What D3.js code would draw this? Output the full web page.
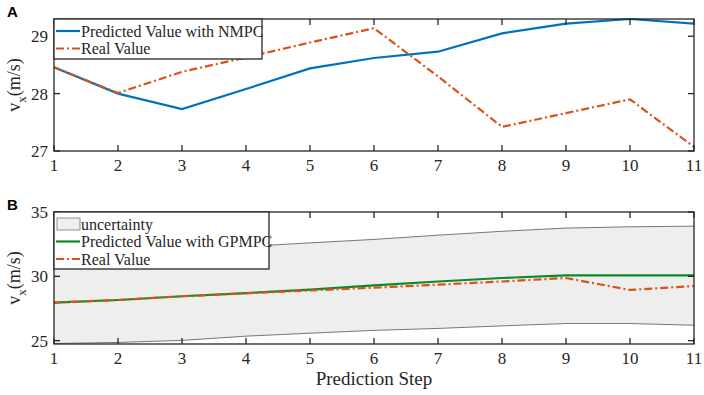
<!DOCTYPE html>
<html>
<head>
<meta charset="utf-8">
<script src="https://cdn.jsdelivr.net/npm/d3@7"></script>
<style>
  body { margin: 0; background: #fff; }
  svg { display: block; }
  text { font-family: "Liberation Serif", "Times New Roman", serif; fill: #262626; }
</style>
</head>
<body>
<svg id="drawing_region"></svg>
<script>
const steps = [1, 2, 3, 4, 5, 6, 7, 8, 9, 10, 11];

// panel A
const nmpcPred = [28.46, 28.0, 27.73, 28.08, 28.44, 28.62, 28.73, 29.05, 29.22, 29.30, 29.22];
const nmpcReal = [28.46, 28.01, 28.38, 28.63, 28.89, 29.14, 28.30, 27.42, 27.66, 27.90, 27.07];
const ticksA = [27, 28, 29];

// panel B
const gpPred = [27.96, 28.16, 28.45, 28.70, 28.97, 29.30, 29.60, 29.87, 30.08, 30.08, 30.08];
const gpReal = [27.96, 28.16, 28.45, 28.68, 28.90, 29.12, 29.35, 29.60, 29.87, 28.94, 29.25];
const bandUpper = [31.9, 32.0, 32.15, 32.32, 32.6, 32.87, 33.2, 33.5, 33.75, 33.85, 33.9];
const bandLower = [24.78, 24.86, 25.02, 25.35, 25.58, 25.8, 25.95, 26.15, 26.33, 26.33, 26.2];
const ticksB = [25, 30, 35];

const W = 704, H = 395;
const svg = d3.select('#drawing_region').attr('width', W).attr('height', H);

const left = 54, right = 694;
const x = d3.scaleLinear().domain([1, 11]).range([left, right]);

const BLUE = '#0072BD', RED = '#D95319', GREEN = '#0a8a2a';

function drawAxes(g, y, top, bottom, yticks) {
    g.append('rect')
        .attr('x', left).attr('y', top)
        .attr('width', right - left).attr('height', bottom - top)
        .attr('fill', 'none').attr('stroke', '#262626').attr('stroke-width', 1.3);

    const tl = 6;
    steps.forEach(s => {
        g.append('line').attr('x1', x(s)).attr('x2', x(s)).attr('y1', bottom).attr('y2', bottom - tl)
            .attr('stroke', '#262626').attr('stroke-width', 1.3);
        g.append('line').attr('x1', x(s)).attr('x2', x(s)).attr('y1', top).attr('y2', top + tl)
            .attr('stroke', '#262626').attr('stroke-width', 1.3);
        g.append('text').attr('x', x(s)).attr('y', bottom + 20)
            .attr('text-anchor', 'middle').style('font-size', '17px').text(s);
    });
    yticks.forEach(t => {
        g.append('line').attr('x1', left).attr('x2', left + tl).attr('y1', y(t)).attr('y2', y(t))
            .attr('stroke', '#262626').attr('stroke-width', 1.3);
        g.append('line').attr('x1', right).attr('x2', right - tl).attr('y1', y(t)).attr('y2', y(t))
            .attr('stroke', '#262626').attr('stroke-width', 1.3);
        g.append('text').attr('x', left - 6).attr('y', y(t)).attr('dy', '0.35em')
            .attr('text-anchor', 'end').style('font-size', '17px').text(t);
    });
}

function yLabel(cy) {
    const t = svg.append('text')
        .attr('transform', `translate(20, ${cy}) rotate(-90)`)
        .attr('text-anchor', 'middle').style('font-size', '18px');
    t.append('tspan').text('v');
    t.append('tspan').attr('dy', 6).style('font-size', '13px').text('x');
    t.append('tspan').attr('dy', -6).text('(m/s)');
}

function legend(g, x0, y0, w, h, items) {
    g.append('rect').attr('x', x0).attr('y', y0).attr('width', w).attr('height', h)
        .attr('fill', '#fff').attr('stroke', '#262626').attr('stroke-width', 1.3);
    items.forEach((it, i) => {
        const cy = y0 + 12 + i * 17.5;
        if (it.patch) {
            g.append('rect').attr('x', x0 + 3).attr('y', cy - 6).attr('width', 23).attr('height', 12)
                .attr('fill', '#eeeeee').attr('stroke', '#777').attr('stroke-width', 0.8);
        } else {
            g.append('line').attr('x1', x0 + 2).attr('x2', x0 + 26).attr('y1', cy).attr('y2', cy)
                .attr('stroke', it.color).attr('stroke-width', 2.2)
                .attr('stroke-dasharray', it.dash || null);
        }
        g.append('text').attr('x', x0 + 27).attr('y', cy).attr('dy', '0.35em')
            .style('font-size', '16px').text(it.label);
    });
}

// ---------- panel A ----------
const topA = 19, botA = 151;
const yA = d3.scaleLinear().domain([27, 29.3]).range([botA, topA]);
const gA = svg.append('g');

const lineA = d3.line().x((d, i) => x(steps[i])).y(d => yA(d));
gA.append('path').datum(nmpcPred).attr('d', lineA)
    .attr('fill', 'none').attr('stroke', BLUE).attr('stroke-width', 2.2);
gA.append('path').datum(nmpcReal).attr('d', lineA)
    .attr('fill', 'none').attr('stroke', RED).attr('stroke-width', 2.2)
    .attr('stroke-dasharray', '8,3,2,3');

drawAxes(gA, yA, topA, botA, ticksA);
legend(gA, left, topA, 208, 40, [
    {label: 'Predicted Value with NMPC', color: BLUE},
    {label: 'Real Value', color: RED, dash: '8,3,2,3'}
]);
yLabel((topA + botA) / 2);

svg.append('text').attr('x', 7).attr('y', 17)
    .style('font-family', '"Liberation Sans", Arial, sans-serif').style('font-weight', 'bold')
    .style('font-size', '15px').style('fill', '#000').text('A');

// ---------- panel B ----------
const topB = 212, botB = 344;
const yB = d3.scaleLinear().domain([24.74, 35]).range([botB, topB]);
const gB = svg.append('g');

const area = d3.area().x((d, i) => x(steps[i]))
    .y0((d, i) => yB(bandLower[i])).y1((d, i) => yB(bandUpper[i]));
gB.append('path').datum(steps).attr('d', area).attr('fill', '#eeeeee');
const lineB = d3.line().x((d, i) => x(steps[i])).y(d => yB(d));
gB.append('path').datum(bandUpper).attr('d', lineB).attr('fill', 'none').attr('stroke', '#777').attr('stroke-width', 1);
gB.append('path').datum(bandLower).attr('d', lineB).attr('fill', 'none').attr('stroke', '#777').attr('stroke-width', 1);

gB.append('path').datum(gpPred).attr('d', lineB)
    .attr('fill', 'none').attr('stroke', GREEN).attr('stroke-width', 2.2);
gB.append('path').datum(gpReal).attr('d', lineB)
    .attr('fill', 'none').attr('stroke', RED).attr('stroke-width', 2.2)
    .attr('stroke-dasharray', '8,3,2,3');

drawAxes(gB, yB, topB, botB, ticksB);
legend(gB, left, topB, 215, 57, [
    {label: 'uncertainty', patch: true},
    {label: 'Predicted Value with GPMPC', color: GREEN},
    {label: 'Real Value', color: RED, dash: '8,3,2,3'}
]);
yLabel((topB + botB) / 2);

svg.append('text').attr('x', 7).attr('y', 210)
    .style('font-family', '"Liberation Sans", Arial, sans-serif').style('font-weight', 'bold')
    .style('font-size', '15px').style('fill', '#000').text('B');

svg.append('text').attr('x', (left + right) / 2).attr('y', 385)
    .attr('text-anchor', 'middle').style('font-size', '19px').text('Prediction Step');
</script>
</body>
</html>
